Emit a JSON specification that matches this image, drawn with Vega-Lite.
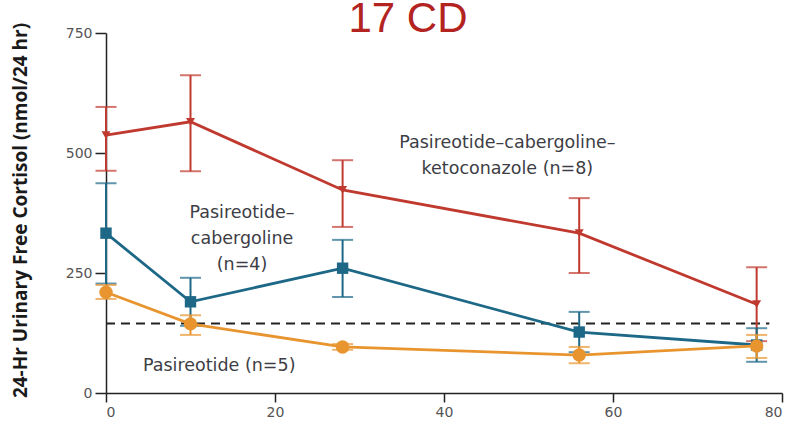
{
  "$schema": "https://vega.github.io/schema/vega-lite/v6.json",
  "width": 676,
  "height": 360,
  "autosize": {"type": "none"},
  "padding": {"left": 106, "top": 33, "right": 9, "bottom": 32},
  "background": "white",
  "title": {
    "text": "17 CD",
    "fontSize": 42,
    "font": "Liberation Sans",
    "fontWeight": "normal",
    "color": "#b3231f",
    "anchor": "middle",
    "baseline": "bottom",
    "dx": -36,
    "offset": -61
  },
  "datasets": {
    "ufc": [
      {"series": "Pasireotide-cabergoline-ketoconazole", "week": 0, "mean": 537, "lo": 463, "hi": 596},
      {"series": "Pasireotide-cabergoline-ketoconazole", "week": 10, "mean": 565, "lo": 462, "hi": 662},
      {"series": "Pasireotide-cabergoline-ketoconazole", "week": 28, "mean": 423, "lo": 346, "hi": 485},
      {"series": "Pasireotide-cabergoline-ketoconazole", "week": 56, "mean": 333, "lo": 250, "hi": 406},
      {"series": "Pasireotide-cabergoline-ketoconazole", "week": 77, "mean": 185, "lo": 108, "hi": 262},
      {"series": "Pasireotide-cabergoline", "week": 0, "mean": 333, "lo": 228, "hi": 437},
      {"series": "Pasireotide-cabergoline", "week": 10, "mean": 190, "lo": 140, "hi": 240},
      {"series": "Pasireotide-cabergoline", "week": 28, "mean": 260, "lo": 200, "hi": 319},
      {"series": "Pasireotide-cabergoline", "week": 56, "mean": 127, "lo": 85, "hi": 169},
      {"series": "Pasireotide-cabergoline", "week": 77, "mean": 100, "lo": 65, "hi": 135},
      {"series": "Pasireotide", "week": 0, "mean": 210, "lo": 196, "hi": 225},
      {"series": "Pasireotide", "week": 10, "mean": 144, "lo": 121, "hi": 162},
      {"series": "Pasireotide", "week": 28, "mean": 96, "lo": 90, "hi": 102},
      {"series": "Pasireotide", "week": 56, "mean": 79, "lo": 62, "hi": 96},
      {"series": "Pasireotide", "week": 77, "mean": 98, "lo": 73, "hi": 121}
    ],
    "limit": [{"start": 0, "end": 78.5, "uln": 145}],
    "labels": [
      {"week": 47.5, "value": 520, "lines": ["Pasireotide–cabergoline–", "ketoconazole (n=8)"]},
      {"week": 16.1, "value": 376, "lines": ["Pasireotide–", "cabergoline", "(n=4)"]},
      {"week": 13.4, "value": 56, "lines": ["Pasireotide (n=5)"]}
    ]
  },
  "config": {
    "view": {"stroke": null},
    "axis": {
      "domainColor": "#222222",
      "domainWidth": 1.5,
      "tickColor": "#222222",
      "tickWidth": 1.5,
      "tickSize": 11,
      "grid": false,
      "labelFont": "DejaVu Sans",
      "labelFontSize": 14,
      "labelColor": "#555555",
      "labelPadding": 3
    }
  },
  "layer": [
    {
      "data": {"name": "limit"},
      "mark": {"type": "rule", "color": "#222222", "strokeWidth": 2, "strokeDash": [9, 6]},
      "encoding": {
        "x": {"field": "start", "type": "quantitative"},
        "x2": {"field": "end"},
        "y": {"field": "uln", "type": "quantitative"}
      }
    },
    {
      "data": {"name": "ufc"},
      "encoding": {
        "x": {
          "field": "week",
          "type": "quantitative",
          "scale": {"domain": [0, 80], "nice": false, "zero": false},
          "axis": {"values": [0, 20, 40, 60, 80], "title": null, "tickSize": 9}
        },
        "color": {
          "field": "series",
          "type": "nominal",
          "scale": {
            "domain": ["Pasireotide-cabergoline-ketoconazole", "Pasireotide-cabergoline", "Pasireotide"],
            "range": ["#c0392f", "#1d6887", "#e8952f"]
          },
          "legend": null
        }
      },
      "layer": [
        {
          "mark": {"type": "rule", "strokeWidth": 2},
          "encoding": {
            "y": {
              "field": "lo",
              "type": "quantitative",
              "scale": {"domain": [0, 750], "nice": false},
              "axis": {
                "values": [0, 250, 500, 750],
                "title": "24-Hr Urinary Free Cortisol (nmol/24 hr)",
                "titleFont": "Open Sans",
                "titleFontSize": 19,
                "titleFontWeight": "bold",
                "titleColor": "#1a1a1a",
                "titleX": -86,
                "titleY": 177,
                "titleAlign": "center",
                "titleBaseline": "middle",
                "titleAngle": -90
              }
            },
            "y2": {"field": "hi"}
          }
        },
        {
          "mark": {"type": "tick", "orient": "horizontal", "thickness": 2, "size": 21},
          "encoding": {"y": {"field": "lo", "type": "quantitative"}}
        },
        {
          "mark": {"type": "tick", "orient": "horizontal", "thickness": 2, "size": 21},
          "encoding": {"y": {"field": "hi", "type": "quantitative"}}
        },
        {
          "mark": {"type": "line", "strokeWidth": 2.8},
          "encoding": {"y": {"field": "mean", "type": "quantitative"}}
        },
        {
          "mark": {"type": "point", "filled": true, "opacity": 1},
          "encoding": {
            "y": {"field": "mean", "type": "quantitative"},
            "shape": {
              "field": "series",
              "type": "nominal",
              "scale": {
                "domain": ["Pasireotide-cabergoline-ketoconazole", "Pasireotide-cabergoline", "Pasireotide"],
                "range": ["triangle-down", "square", "circle"]
              },
              "legend": null
            },
            "size": {
              "field": "series",
              "type": "nominal",
              "scale": {
                "domain": ["Pasireotide-cabergoline-ketoconazole", "Pasireotide-cabergoline", "Pasireotide"],
                "range": [80, 180, 100]
              },
              "legend": null
            }
          }
        }
      ]
    },
    {
      "data": {"name": "labels"},
      "mark": {
        "type": "text",
        "font": "DejaVu Sans",
        "fontSize": 17.5,
        "color": "#3d3d45",
        "align": "center",
        "baseline": "middle",
        "lineHeight": 26
      },
      "encoding": {
        "x": {"field": "week", "type": "quantitative"},
        "y": {"field": "value", "type": "quantitative"},
        "text": {"field": "lines"}
      }
    }
  ]
}
